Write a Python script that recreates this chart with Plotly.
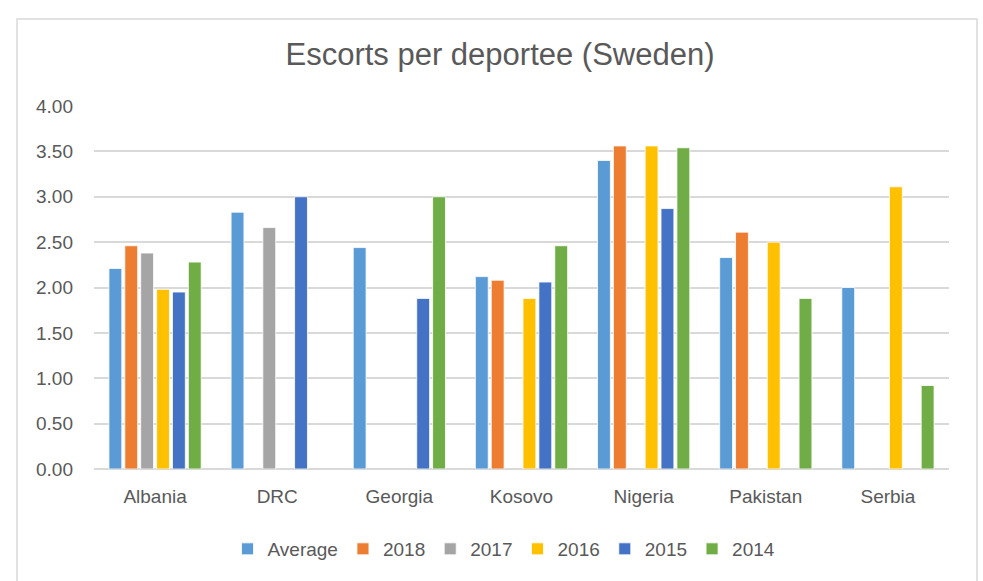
import plotly.graph_objects as go

# Escorts per deportee, by country of return and year
countries = ["Albania", "DRC", "Georgia", "Kosovo", "Nigeria", "Pakistan", "Serbia"]
series_names = ["Average", "2018", "2017", "2016", "2015", "2014"]

average = [2.21, 2.83, 2.44, 2.12, 3.40, 2.33, 2.00]
y2018 = [2.46, None, None, 2.08, 3.56, 2.61, None]
y2017 = [2.38, 2.66, None, None, None, None, None]
y2016 = [1.98, None, None, 1.88, 3.56, 2.50, 3.11]
y2015 = [1.95, 3.00, 1.88, 2.06, 2.87, None, None]
y2014 = [2.28, None, 3.00, 2.46, 3.54, 1.88, 0.92]

series_values = [average, y2018, y2017, y2016, y2015, y2014]
colors = ["#5B9BD5", "#ED7D31", "#A5A5A5", "#FFC000", "#4472C4", "#70AD47"]

y_ticks = [0, 0.5, 1.0, 1.5, 2.0, 2.5, 3.0, 3.5, 4.0]
y_tick_labels = ["0.00", "0.50", "1.00", "1.50", "2.00", "2.50", "3.00", "3.50", "4.00"]

W, H = 983, 581
L, R, T, B = 94, 34, 106, 112
plot_w = W - L - R
plot_h = H - T - B

FONT = "Liberation Sans, Arial, sans-serif"
TEXT = "#595959"

fig = go.Figure()
for name, vals, col in zip(series_names, series_values, colors):
    fig.add_trace(go.Bar(
        name=name, x=countries, y=vals,
        marker=dict(color=col, line=dict(color="white", width=0.8)),
    ))

def px_to_paper_x(px):
    return (px - L) / plot_w

def px_to_paper_y(py):
    return (H - B - py) / plot_h

fig.update_layout(
    width=W, height=H,
    margin=dict(l=L, r=R, t=T, b=B),
    paper_bgcolor="white", plot_bgcolor="white",
    barmode="group", bargap=0.22, bargroupgap=0.19,
    font=dict(family=FONT, color=TEXT, size=19),
    title=dict(
        text="Escorts per deportee (Sweden)",
        font=dict(family=FONT, size=31, color=TEXT),
        x=500 / W, xanchor="center", xref="container",
        y=(H - 54) / H, yanchor="middle", yref="container",
    ),
    legend=dict(
        orientation="h",
        x=px_to_paper_x(504), xanchor="center",
        y=px_to_paper_y(549), yanchor="middle",
        font=dict(family=FONT, size=19, color=TEXT),
        itemwidth=30, tracegroupgap=0,
    ),
    showlegend=True,
    xaxis=dict(
        showgrid=False, showline=False, zeroline=False,
        tickfont=dict(family=FONT, size=19, color=TEXT),
        ticks="", ticklabelstandoff=14,
    ),
    yaxis=dict(
        range=[0, 4.0], tickvals=y_ticks, ticktext=y_tick_labels,
        showgrid=True, gridcolor="#D9D9D9", gridwidth=1.5,
        zeroline=True, zerolinecolor="#D9D9D9", zerolinewidth=1.5,
        showline=False, ticks="", ticklabelstandoff=20,
        tickfont=dict(family=FONT, size=19, color=TEXT),
    ),
    shapes=[dict(
        type="rect", xref="paper", yref="paper",
        x0=px_to_paper_x(17), x1=px_to_paper_x(977),
        y0=px_to_paper_y(590), y1=px_to_paper_y(19),
        line=dict(color="#D9D9D9", width=1.5), layer="below",
    )],
)

fig.write_html("out.html")
